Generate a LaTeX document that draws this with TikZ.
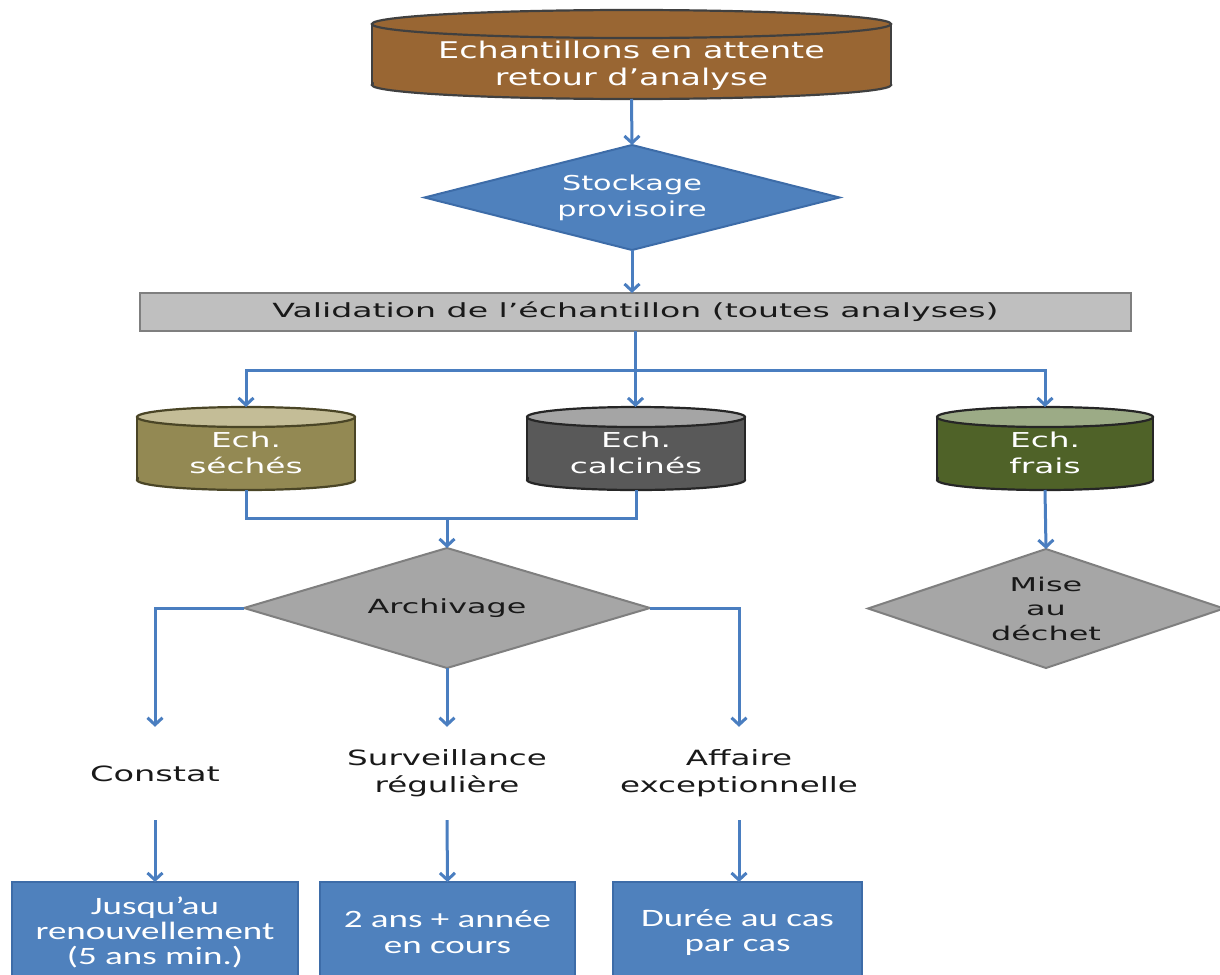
\documentclass[tikz,border=0pt]{standalone}
\usepackage{fontspec}
\usetikzlibrary{arrows.meta,shapes.geometric}
\newfontfamily\dvfam{DejaVu Sans}
\newfontfamily\cbfam{Carlito}
% sized, horizontally stretched faces
\newcommand\dvf[3]{\dvfam\fontsize{#1}{#2}\selectfont\addfontfeature{FakeStretch=#3}}
\newcommand\cbf[3]{\cbfam\fontsize{#1}{#2}\selectfont\addfontfeature{FakeStretch=#3}}
\definecolor{flow}{HTML}{4A7EC0}
\definecolor{blueF}{HTML}{4F81BD}
\definecolor{blueD}{HTML}{3D6CA8}
\definecolor{brownF}{HTML}{996633}
\definecolor{oliveF}{HTML}{938953}
\definecolor{oliveT}{HTML}{C4BD97}
\definecolor{oliveD}{HTML}{4A4526}
\definecolor{darkF}{HTML}{595959}
\definecolor{darkT}{HTML}{A5A5A5}
\definecolor{greenF}{HTML}{4F6228}
\definecolor{greenT}{HTML}{9CAB86}
\definecolor{grayL}{HTML}{BFBFBF}
\definecolor{grayM}{HTML}{A6A6A6}
\definecolor{grayD}{HTML}{7F7F7F}
% drum{name}{left}{right}{top axis y}{bottom axis y}{ry}{body}{top}{stroke}
\newcommand\drum[9]{%
  \fill[#7] (#2,#4) rectangle (#3,#5);
  \filldraw[fill=#7,draw=#9,line width=2.2pt] ({(#2+#3)/2},#5) ellipse ({(#3-#2)/2} and #6);
  \fill[#7] ({#2+1.5},#4) rectangle ({#3-1.5},#5);
  \draw[#9,line width=2.2pt] (#2,#4) -- (#2,#5) (#3,#4) -- (#3,#5);
  \filldraw[fill=#8,draw=#9,line width=2.2pt] ({(#2+#3)/2},#4) ellipse ({(#3-#2)/2} and #6);
  \node[inner sep=0pt,outer sep=0pt,minimum width={#3-#2},minimum height={#5-#4+2*#6}]
    (#1) at ({(#2+#3)/2},{(#4+#5)/2}) {};}
\begin{document}
\begin{tikzpicture}[x=1pt,y=-1pt,
  flowline/.style={flow,line width=3pt},
  arr/.style={flowline,-{Straight Barb[length=7pt,width=15pt]}},
  whitetext/.style={text=white,align=center,inner sep=0pt},
  blacktext/.style={text=black!90,align=center,inner sep=0pt},
  decision/.style={diamond,inner sep=0pt,outer sep=0pt,line width=2pt,align=center},
  period/.style={rectangle,fill=blueF,draw=blueD,line width=2pt,inner sep=0pt,outer sep=0pt,
     text=white,align=center},
  tag/.style={blacktext,minimum width=200pt,minimum height=93pt}]
\useasboundingbox (0,0) rectangle (1220,974);

% storage drum at the top
\drum{wait}{372}{891}{24}{85}{14}{brownF}{brownF}{black!75}
\node[whitetext,font=\dvf{23}{27}{1.45}] (wait-t) at (631.5,66) {Echantillons en attente\\retour d’analyse};

% temporary storage decision
\node[decision,fill=blueF,draw=blueD,aspect=3.95,minimum width=415pt,minimum height=105pt,
  text=white,font=\dvf{20.5}{26}{1.48}] (stock) at (632,197.5) {Stockage\\provisoire};

% validation bar
\node[rectangle,fill=grayL,draw=grayD,line width=2pt,minimum width=991pt,minimum height=38pt,
  inner sep=0pt,outer sep=0pt,text=black!90,font=\dvf{19.5}{24}{1.7}] (valid) at (635.5,312) {Validation de l’échantillon (toutes analyses)};

% three sample drums
\drum{dry}{137}{355}{417}{480}{10}{oliveF}{oliveT}{oliveD}
\drum{ash}{527}{745}{417}{480}{10}{darkF}{darkT}{black!85}
\drum{fresh}{937}{1153}{417}{480}{10}{greenF}{greenT}{black!85}
\node[whitetext,font=\dvf{20.5}{26}{1.6}] (dry-t) at (246,453) {Ech.\\séchés};
\node[whitetext,font=\dvf{20.5}{26}{1.6}] (ash-t) at (636,453) {Ech.\\calcinés};
\node[whitetext,font=\dvf{20.5}{26}{1.6}] (fresh-t) at (1045,453) {Ech.\\frais};

% archiving and disposal
\node[decision,fill=grayM,draw=grayD,aspect=3.38,minimum width=406pt,minimum height=120pt,
  text=black!90,font=\dvf{19.5}{24}{1.63}] (arch) at (447,608) {Archivage};
\node[decision,fill=grayM,draw=grayD,aspect=2.99,minimum width=356pt,minimum height=119pt,
  text=black!90,font=\dvf{19}{24.5}{1.68}] (waste) at (1046,608.5) {Mise\\au\\déchet};

% archiving cases
\node[tag,font=\dvf{21}{27}{1.6}] (obs) at (155,773.5) {Constat};
\node[tag,font=\dvf{21}{27}{1.55}] (watch) at (447,773.5) {Surveillance\\régulière};
\node[tag,font=\dvf{21}{27}{1.55}] (spec) at (739,773.5) {Affaire\\exceptionnelle};

% retention periods
\node[period,minimum width=286pt,minimum height=100pt,font=\cbf{25}{25}{1.48}] (p1) at (155,932) {Jusqu’au\\renouvellement\\(5 ans min.)};
\node[period,minimum width=255pt,minimum height=100pt,font=\cbf{25}{26}{1.48}] (p2) at (447.5,932) {2 ans + année\\en cours};
\node[period,minimum width=249pt,minimum height=100pt,font=\cbf{25}{25}{1.48}] (p3) at (737.5,932) {Durée au cas\\par cas};

% connectors
\draw[arr] (wait.south) -- (stock.north);
\draw[arr] (stock.south) -- (stock.south |- valid.north);
\coordinate (split) at (635.5,370);
\draw[flowline] (valid.south) -- (split);
\draw[arr] (split) -| (dry.north);
\draw[arr] (split) -| (fresh.north);
\draw[arr] (split) -- (split |- ash.north);
\coordinate (join) at (447,518);
\draw[flowline] (dry.south) |- (join) -| (ash.south);
\draw[arr] (join) -- (arch.north);
\draw[arr] (fresh.south) -- (waste.north);
\draw[arr] (arch.west) -| (obs.north);
\draw[arr] (arch.south) -- (watch.north);
\draw[arr] (arch.east) -| (spec.north);
\draw[arr] (obs.south) -- (p1.north);
\draw[arr] (watch.south) -- (p2.north);
\draw[arr] (spec.south) -- (spec.south |- p3.north);
\end{tikzpicture}
\end{document}
